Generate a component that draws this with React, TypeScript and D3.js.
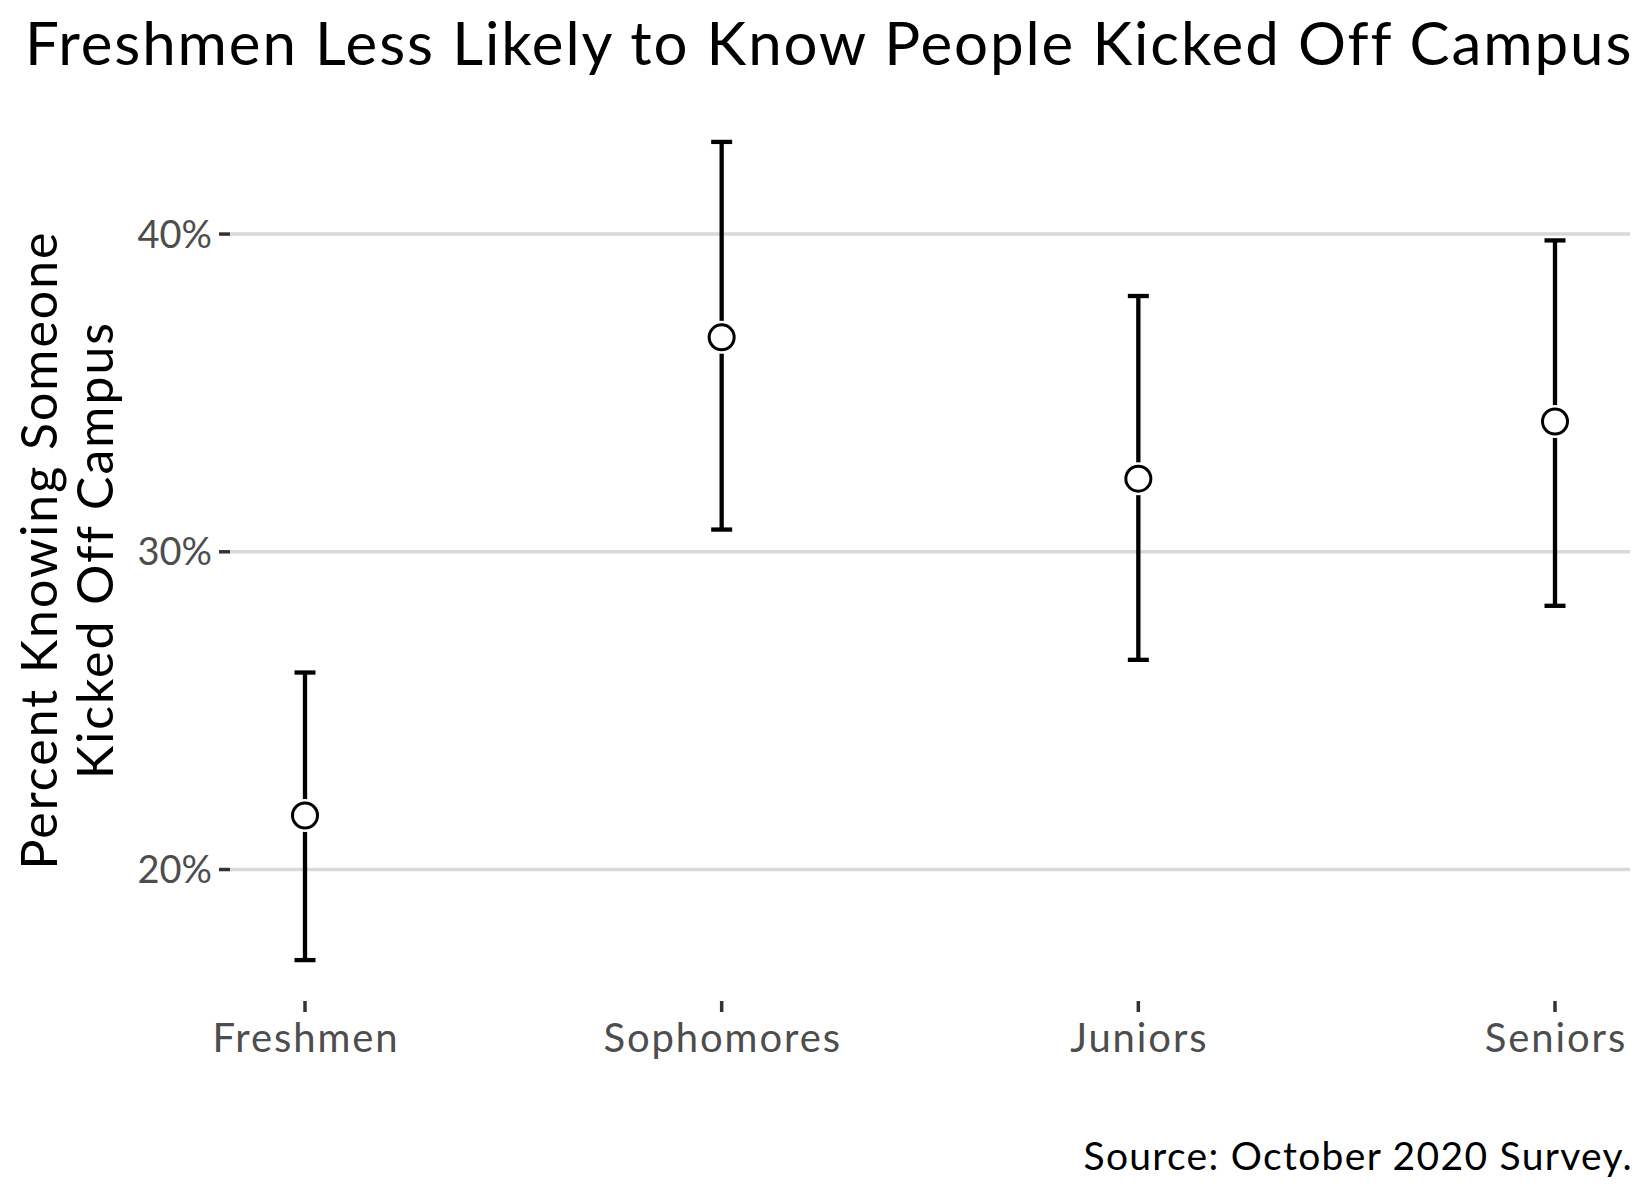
import { useMemo } from "react";
import * as d3 from "d3";

const classes = ["Freshmen", "Sophomores", "Juniors", "Seniors"];
const estimates = [21.7, 36.75, 32.3, 34.1];
const lower = [17.15, 30.7, 26.6, 28.3];
const upper = [26.2, 42.9, 38.05, 39.8];
const yTicks = [20, 30, 40];

const WIDTH = 1650;
const HEIGHT = 1200;
const PANEL = { left: 230, right: 1630, top: 101, bottom: 1001 };
const FONT = "Lato, 'Noto Sans', sans-serif";

const App = () => {
    const y = useMemo(() => {
        const lo = d3.min(lower) as number;
        const hi = d3.max(upper) as number;
        const pad = (hi - lo) * 0.05;
        return d3.scaleLinear().domain([lo - pad, hi + pad]).range([PANEL.bottom, PANEL.top]);
    }, []);

    const x = useMemo(
        () => d3.scalePoint<string>().domain(classes).range([PANEL.left, PANEL.right]).padding(0.18),
        []
    );

    return (
        <svg
            width={WIDTH}
            height={HEIGHT}
            style={{ position: "absolute", left: 0, top: 0, background: "#fff" }}
            fontFamily={FONT}
        >
            <text x={25} y={65} fontSize={60} letterSpacing={1.9} fill="#000">
                Freshmen Less Likely to Know People Kicked Off Campus
            </text>

            {/* grid + y axis */}
            {yTicks.map((t) => (
                <g key={t}>
                    <line x1={PANEL.left} x2={PANEL.right} y1={y(t)} y2={y(t)} stroke="#d9d9d9" strokeWidth={3.5} />
                    <line x1={219} x2={PANEL.left} y1={y(t)} y2={y(t)} stroke="#333" strokeWidth={3.5} />
                    <text x={212} y={y(t)} dy="0.36em" textAnchor="end" fontSize={38} fill="#4d4d4d">
                        {d3.format(".0f")(t) + "%"}
                    </text>
                </g>
            ))}

            {/* x axis */}
            {classes.map((c) => (
                <g key={c}>
                    <line x1={x(c)} x2={x(c)} y1={PANEL.bottom} y2={PANEL.bottom + 11} stroke="#333" strokeWidth={3.5} />
                    <text x={(x(c) as number) + 1} y={1052} textAnchor="middle" fontSize={40} letterSpacing={1.9} fill="#4d4d4d">
                        {c}
                    </text>
                </g>
            ))}

            <g transform="rotate(-90)" fontSize={50} letterSpacing={2} textAnchor="middle" fill="#000">
                <text x={-550} y={57}>Percent Knowing Someone</text>
                <text x={-550} y={113}>Kicked Off Campus</text>
            </g>

            {/* error bars and points */}
            {classes.map((c, i) => {
                const cx = x(c) as number;
                return (
                    <g key={c}>
                        <line x1={cx} x2={cx} y1={y(lower[i])} y2={y(upper[i])} stroke="#000" strokeWidth={4.3} />
                        <line x1={cx - 10.5} x2={cx + 10.5} y1={y(upper[i])} y2={y(upper[i])} stroke="#000" strokeWidth={4.3} />
                        <line x1={cx - 10.5} x2={cx + 10.5} y1={y(lower[i])} y2={y(lower[i])} stroke="#000" strokeWidth={4.3} />
                        <circle cx={cx} cy={y(estimates[i])} r={16.5} fill="#fff" />
                        <circle cx={cx} cy={y(estimates[i])} r={12.5} fill="#fff" stroke="#000" strokeWidth={3} />
                    </g>
                );
            })}

            <text x={1633} y={1170} textAnchor="end" fontSize={39} letterSpacing={1.3} fill="#000">
                Source: October 2020 Survey.
            </text>
        </svg>
    );
};

export default App;
